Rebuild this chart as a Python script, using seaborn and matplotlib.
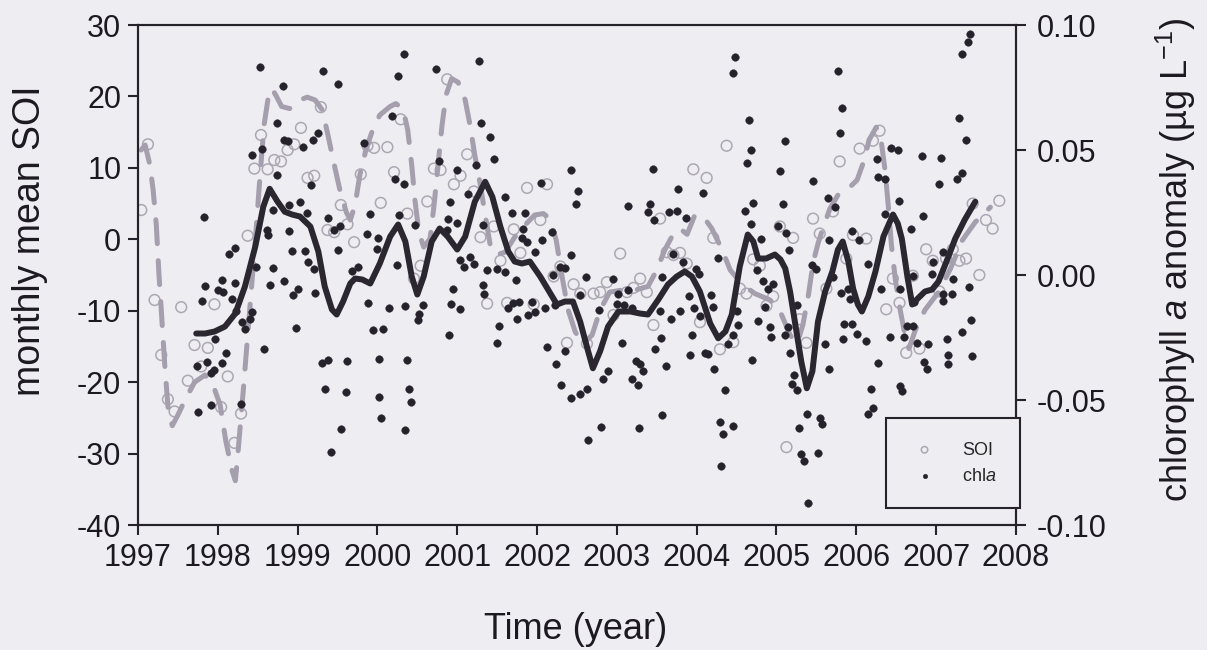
import numpy as np
import pandas as pd
import seaborn as sns
import matplotlib.pyplot as plt
from matplotlib.ticker import FormatStrFormatter

# monthly mean SOI, Jan 1997 - Oct 2007
soi = [4.1, 13.3, -8.5, -16.2, -22.4, -24.1, -9.5, -19.8, -14.8, -17.8, -15.2, -9.1,
       -23.5, -19.2, -28.5, -24.4, 0.5, 9.9, 14.6, 9.8, 11.1, 10.9, 12.5, 13.3,
       15.6, 8.6, 8.9, 18.5, 1.3, 1.0, 4.8, 2.1, -0.4, 9.1, 13.1, 12.8,
       5.1, 12.9, 9.4, 16.8, 3.6, -5.5, -3.7, 5.3, 9.9, 9.7, 22.4, 7.7,
       8.9, 11.9, 6.7, 0.3, -9.0, 1.8, -3.0, -8.9, 1.4, -1.9, 7.2, -9.1,
       2.7, 7.7, -5.2, -3.8, -14.5, -6.3, -7.6, -14.6, -7.6, -7.4, -6.0, -10.6,
       -2.0, -7.4, -6.8, -5.5, -7.4, -12.0, 2.9, -1.8, -2.2, -1.9, -3.4, 9.8,
       -11.6, 8.6, 0.2, -15.4, 13.1, -14.4, -6.9, -7.6, -2.8, -3.7, -9.3, -8.0,
       1.8, -29.1, 0.2, -11.2, -14.5, 2.9, 0.8, -6.9, 3.9, 10.9, -2.7, 0.6,
       12.7, 0.1, 13.8, 15.2, -9.8, -5.5, -8.9, -15.9, -5.1, -15.3, -1.4, -3.0,
       -7.3, -2.7, -1.4, -3.0, -2.7, 5.0, -5.0, 2.7, 1.5, 5.4]
soi_year = [y + (m - 0.5) / 12 for y in range(1997, 2008) for m in range(1, 13)][:len(soi)]

# smoothed SOI (dashed line)
soi_smooth_year = [1997.04, 1997.09, 1997.15, 1997.19, 1997.23, 1997.26, 1997.30, 1997.34, 1997.38, 1997.43,
                   1997.50, 1997.59, 1997.71, 1997.84, 1997.94, 1998.03, 1998.10, 1998.18, 1998.22, 1998.25,
                   1998.32, 1998.37, 1998.42, 1998.48, 1998.53, 1998.58, 1998.63, 1998.68, 1998.74, 1998.80,
                   1998.90, 1999.03, 1999.12, 1999.22, 1999.31, 1999.38, 1999.46, 1999.53, 1999.61, 1999.66,
                   1999.72, 1999.78, 1999.86, 1999.94, 2000.03, 2000.16, 2000.23, 2000.32, 2000.38, 2000.43,
                   2000.47, 2000.52, 2000.58, 2000.66, 2000.71, 2000.76, 2000.81, 2000.86, 2000.93, 2001.01,
                   2001.10, 2001.16, 2001.22, 2001.29, 2001.35, 2001.41, 2001.49, 2001.60, 2001.72, 2001.85,
                   2001.97, 2002.08, 2002.16, 2002.24, 2002.31, 2002.39, 2002.48, 2002.58, 2002.69, 2002.79,
                   2002.91, 2003.07, 2003.23, 2003.39, 2003.50, 2003.60, 2003.70, 2003.79, 2003.88, 2003.97,
                   2004.07, 2004.19, 2004.32, 2004.42, 2004.57, 2004.73, 2004.92, 2005.05, 2005.17, 2005.26,
                   2005.33, 2005.40, 2005.46, 2005.52, 2005.58, 2005.67, 2005.77, 2005.90, 2006.01, 2006.09,
                   2006.16, 2006.25, 2006.31, 2006.36, 2006.40, 2006.44, 2006.49, 2006.55, 2006.61, 2006.66,
                   2006.74, 2006.86, 2007.03, 2007.18, 2007.33, 2007.49, 2007.68]
soi_smooth = [12.5, 13.2, 10.4, 6.9, 2.0, -4.3, -11.3, -18.3, -24.0, -26.1,
              -24.6, -22.5, -20.0, -19.0, -20.4, -23.2, -28.2, -32.4, -33.8, -30.3,
              -21.1, -14.1, -7.1, 1.3, 9.0, 16.0, 19.7, 21.1, 19.9, 18.6,
              18.3, 19.5, 19.9, 19.5, 18.1, 14.6, 10.4, 6.9, 3.8, 2.7,
              4.8, 9.0, 12.7, 15.3, 17.4, 18.6, 19.0, 18.3, 15.3, 10.4,
              5.5, 1.0, -1.1, 0.1, 4.8, 10.4, 16.0, 20.2, 22.5, 22.0,
              19.5, 16.0, 11.8, 7.6, 3.4, -0.6, -2.2, -1.8, 0.3, 2.0,
              3.4, 3.6, 2.9, -0.1, -5.0, -9.9, -13.0, -14.6, -13.4, -9.9,
              -7.4, -7.1, -7.1, -6.6, -4.3, -1.5, 0.6, 1.5, 0.7, 3.2,
              3.4, 1.5, -1.5, -4.3, -6.3, -7.6, -8.5, -10.2, -13.4, -14.6,
              -12.0, -7.8, -3.2, -0.6, 1.5, 4.3, 6.2, 7.1, 8.3, 10.8,
              13.9, 15.7, 13.9, 9.7, 4.8, -0.8, -5.7, -9.9, -13.4, -15.3,
              -12.7, -9.9, -7.4, -4.1, -0.1, 2.4, 4.5]

# smoothed chlorophyll a anomaly (solid line)
chla_smooth_year = [1997.73, 1997.84, 1997.96, 1998.09, 1998.22, 1998.34, 1998.47, 1998.57, 1998.65, 1998.75,
                    1998.84, 1998.93, 1999.03, 1999.16, 1999.26, 1999.34, 1999.43, 1999.49, 1999.57, 1999.66,
                    1999.72, 1999.81, 1999.91, 2000.03, 2000.16, 2000.26, 2000.35, 2000.43, 2000.50, 2000.58,
                    2000.68, 2000.78, 2000.88, 2001.00, 2001.10, 2001.22, 2001.35, 2001.44, 2001.54, 2001.64,
                    2001.72, 2001.81, 2001.91, 2002.04, 2002.13, 2002.25, 2002.35, 2002.45, 2002.54, 2002.64,
                    2002.70, 2002.79, 2002.89, 2003.02, 2003.17, 2003.29, 2003.39, 2003.52, 2003.64, 2003.75,
                    2003.85, 2003.94, 2004.04, 2004.17, 2004.27, 2004.36, 2004.44, 2004.54, 2004.64, 2004.71,
                    2004.77, 2004.87, 2004.98, 2005.05, 2005.11, 2005.17, 2005.23, 2005.31, 2005.38, 2005.45,
                    2005.52, 2005.61, 2005.70, 2005.77, 2005.83, 2005.90, 2005.96, 2006.02, 2006.07, 2006.15,
                    2006.24, 2006.34, 2006.46, 2006.52, 2006.57, 2006.64, 2006.70, 2006.77, 2006.86, 2006.95,
                    2007.03, 2007.13, 2007.24, 2007.36, 2007.49]
chla_smooth = [-0.0234, -0.0234, -0.0226, -0.0206, -0.0154, -0.0046, 0.0114, 0.0273, 0.0345, 0.0293,
               0.0253, 0.0242, 0.0234, 0.0194, 0.0094, -0.0046, -0.0138, -0.0158, -0.0106, -0.0034,
               -0.0014, -0.0018, -0.0034, 0.0046, 0.0154, 0.0202, 0.0134, -0.0006, -0.0078, -0.0006,
               0.0134, 0.0186, 0.0154, 0.0102, 0.0154, 0.0293, 0.0373, 0.0313, 0.0194, 0.0094,
               0.0054, 0.0046, 0.0054, -0.0006, -0.0054, -0.0118, -0.0106, -0.0106, -0.0186, -0.0305,
               -0.0373, -0.0305, -0.0206, -0.0146, -0.0146, -0.0154, -0.0158, -0.0098, -0.0038, -0.0006,
               0.0014, -0.0006, -0.0066, -0.0194, -0.0253, -0.0226, -0.0158, 0.0034, 0.0162, 0.0134,
               0.0066, 0.0066, 0.0082, 0.0062, 0.0026, -0.0066, -0.0186, -0.0345, -0.0453, -0.0385,
               -0.0186, -0.0066, 0.0014, 0.0102, 0.0134, 0.0054, -0.0054, -0.0118, -0.0146, -0.0086,
               0.0014, 0.0154, 0.0242, 0.0206, 0.0146, -0.0006, -0.0118, -0.0094, -0.0066, -0.0058,
               -0.0026, 0.0054, 0.0146, 0.0222, 0.0293]

# chlorophyll a anomaly samples (dots)
chla_year = [1998.53, 1998.82, 1999.32, 1999.51, 1998.74, 1998.83, 1998.88, 1999.07, 1999.19, 1999.26,
             1998.43, 1998.55, 1998.74, 1999.17, 1999.83, 1997.83, 1998.22, 1998.14, 1998.69, 1998.89,
             1999.03, 1999.12, 1999.38, 1999.46, 1999.53, 1999.51, 1998.62, 1998.63, 1998.89, 1998.93,
             1999.09, 1999.13, 1999.21, 1999.22, 1999.68, 1999.76, 1998.48, 1998.69, 1998.65, 1998.83,
             1998.94, 1999.00, 1997.84, 1997.80, 1998.05, 1998.00, 1998.07, 1998.22, 1998.18, 1998.23,
             1998.30, 1998.34, 1998.43, 1998.40, 1998.98, 1997.96, 1998.10, 1998.05, 1997.86, 1997.74,
             1997.95, 1997.91, 1998.58, 1999.31, 1999.38, 1999.62, 1999.34, 1999.61, 1997.75, 1997.91,
             1998.29, 1999.54, 1999.42,
             2000.33, 2000.26, 2000.73, 2001.27, 2000.18, 2001.30, 2001.41, 2001.46, 2000.77, 2001.00,
             2000.22, 2000.33, 2001.14, 2001.24, 2002.43, 2002.51, 2002.49, 2002.05, 1999.91, 2000.27,
             2000.91, 2000.88, 2001.00, 2001.60, 2001.69, 2001.85, 1999.87, 2000.01, 2000.47, 2000.87,
             2001.32, 2001.82, 2002.06, 2002.19, 2002.43, 2000.00, 2000.25, 2001.04, 2001.09, 2001.16,
             2001.21, 2001.81, 2001.87, 2001.97, 2001.37, 2001.50, 2001.60, 2001.74, 2002.20, 2002.29,
             2002.35, 2002.61, 1999.88, 2000.15, 2000.35, 2000.57, 2000.95, 2000.92, 2001.04, 2001.32,
             2001.34, 2001.64, 2001.75, 2001.70, 2001.77, 2001.89, 2001.97, 2001.94, 2002.10, 2002.23,
             2002.54, 1999.94, 2000.07, 2000.51, 2000.52, 2000.90, 2001.52, 2001.50, 2002.13, 2002.35,
             2000.02, 2000.37, 2002.24, 2000.02, 2000.40, 2000.42, 2000.05, 2000.35, 2002.30, 2002.43,
             2002.54, 2002.63, 2002.64,
             2004.48, 2004.46, 2004.66, 2005.11, 2004.68, 2004.63, 2003.45, 2003.77, 2004.08, 2005.05,
             2005.46, 2003.14, 2003.42, 2003.39, 2003.47, 2003.65, 2003.75, 2003.87, 2004.71, 2004.61,
             2005.08, 2004.68, 2005.02, 2005.12, 2005.16, 2004.81, 2003.70, 2003.83, 2004.27, 2003.99,
             2004.03, 2004.18, 2004.21, 2002.95, 2003.14, 2003.02, 2003.00, 2003.09, 2003.19, 2002.78,
             2003.57, 2003.54, 2003.68, 2003.79, 2003.90, 2003.97, 2004.04, 2004.76, 2004.83, 2004.89,
             2004.96, 2004.86, 2004.77, 2004.92, 2004.93, 2004.51, 2004.52, 2004.46, 2004.39, 2005.26,
             2005.15, 2005.11, 2003.07, 2003.48, 2003.55, 2003.94, 2002.89, 2002.83, 2003.24, 2003.29,
             2003.33, 2003.62, 2003.92, 2004.11, 2004.14, 2004.22, 2003.19, 2003.27, 2004.36, 2004.69,
             2005.17, 2005.22, 2005.20, 2005.26, 2005.38, 2005.28, 2003.57, 2002.80, 2003.28, 2004.29,
             2004.46, 2004.33, 2004.31, 2005.31, 2005.35, 2005.40,
             2007.43, 2007.40, 2007.33, 2005.77, 2005.82, 2005.80, 2007.29, 2007.38, 2006.44, 2006.52,
             2006.26, 2006.82, 2007.06, 2006.27, 2006.36, 2007.33, 2007.26, 2007.03, 2005.65, 2005.73,
             2006.54, 2006.36, 2006.84, 2006.69, 2005.66, 2005.95, 2006.04, 2006.15, 2005.45, 2005.50,
             2005.71, 2007.08, 2006.96, 2006.95, 2006.71, 2007.21, 2007.41, 2005.81, 2005.90, 2005.92,
             2006.31, 2006.55, 2007.08, 2007.20, 2007.08, 2006.72, 2005.85, 2005.95, 2006.01, 2005.83,
             2006.12, 2006.42, 2006.60, 2006.64, 2006.71, 2006.76, 2006.90, 2007.14, 2007.33, 2007.44,
             2005.61, 2006.27, 2005.66, 2006.85, 2006.89, 2007.15, 2007.15, 2007.45, 2006.19, 2006.55,
             2006.57, 2006.21, 2006.15, 2005.55, 2005.57, 2005.52]
chla = [0.0832, 0.0756, 0.0816, 0.0764, 0.0609, 0.0541, 0.0537, 0.0513, 0.0541, 0.0569,
        0.0481, 0.0505, 0.0401, 0.0361, 0.0529, 0.0234, 0.0110, 0.0086, 0.0261, 0.0281,
        0.0293, 0.0250, 0.0230, 0.0182, 0.0198, 0.0102, 0.0182, 0.0162, 0.0178, 0.0098,
        0.0098, 0.0054, 0.0026, -0.0070, 0.0018, 0.0034, 0.0034, 0.0030, -0.0038, -0.0022,
        -0.0078, -0.0054, -0.0042, -0.0102, -0.0018, -0.0058, -0.0066, -0.0030, -0.0094, -0.0142,
        -0.0186, -0.0214, -0.0146, -0.0174, -0.0210, -0.0257, -0.0313, -0.0353, -0.0349, -0.0365,
        -0.0381, -0.0393, -0.0297, -0.0353, -0.0341, -0.0345, -0.0457, -0.0469, -0.0549, -0.0521,
        -0.0517, -0.0617, -0.0709,
        0.0884, 0.0796, 0.0824, 0.0856, 0.0637, 0.0609, 0.0553, 0.0465, 0.0457, 0.0421,
        0.0385, 0.0365, 0.0325, 0.0441, 0.0421, 0.0337, 0.0285, 0.0369, 0.0246, 0.0242,
        0.0293, 0.0226, 0.0210, 0.0313, 0.0250, 0.0250, 0.0166, 0.0150, 0.0202, 0.0182,
        0.0202, 0.0186, 0.0142, 0.0174, 0.0082, 0.0106, 0.0042, 0.0062, 0.0034, 0.0074,
        0.0046, 0.0150, 0.0134, 0.0094, 0.0022, 0.0026, 0.0014, -0.0018, 0.0002, 0.0034,
        0.0030, -0.0006, -0.0110, -0.0130, -0.0122, -0.0118, -0.0054, -0.0114, -0.0134, -0.0038,
        -0.0074, -0.0130, -0.0174, -0.0110, -0.0106, -0.0158, -0.0146, -0.0106, -0.0130, -0.0118,
        -0.0078, -0.0218, -0.0214, -0.0178, -0.0154, -0.0238, -0.0202, -0.0273, -0.0289, -0.0305,
        -0.0337, -0.0341, -0.0357, -0.0489, -0.0457, -0.0509, -0.0573, -0.0621, -0.0441, -0.0493,
        -0.0477, -0.0457, -0.0661,
        0.0872, 0.0808, 0.0621, 0.0537, 0.0501, 0.0449, 0.0425, 0.0345, 0.0329, 0.0417,
        0.0377, 0.0277, 0.0285, 0.0253, 0.0222, 0.0253, 0.0257, 0.0230, 0.0289, 0.0257,
        0.0285, 0.0206, 0.0198, 0.0170, 0.0102, 0.0146, 0.0086, 0.0054, 0.0070, 0.0026,
        0.0006, -0.0078, -0.0126, -0.0014, -0.0058, -0.0074, -0.0114, -0.0118, -0.0130, -0.0138,
        -0.0006, -0.0142, -0.0174, -0.0142, -0.0082, -0.0130, -0.0162, 0.0022, -0.0022, -0.0054,
        -0.0034, -0.0126, -0.0182, -0.0206, -0.0246, -0.0142, -0.0198, -0.0238, -0.0277, -0.0118,
        -0.0206, -0.0238, -0.0273, -0.0297, -0.0253, -0.0238, -0.0385, -0.0417, -0.0345, -0.0357,
        -0.0385, -0.0365, -0.0321, -0.0313, -0.0317, -0.0377, -0.0417, -0.0441, -0.0461, -0.0341,
        -0.0313, -0.0401, -0.0437, -0.0461, -0.0557, -0.0613, -0.0561, -0.0609, -0.0613, -0.0589,
        -0.0605, -0.0637, -0.0764, -0.0717, -0.0745, -0.0912,
        0.0964, 0.0932, 0.0884, 0.0816, 0.0669, 0.0569, 0.0629, 0.0541, 0.0509, 0.0501,
        0.0465, 0.0477, 0.0469, 0.0393, 0.0385, 0.0409, 0.0385, 0.0365, 0.0309, 0.0273,
        0.0297, 0.0246, 0.0238, 0.0186, 0.0142, 0.0178, 0.0142, 0.0046, 0.0042, 0.0026,
        -0.0006, 0.0094, 0.0054, 0.0006, -0.0002, -0.0014, -0.0046, -0.0070, -0.0054, -0.0094,
        -0.0054, -0.0054, -0.0074, -0.0074, -0.0102, -0.0106, -0.0194, -0.0194, -0.0234, -0.0257,
        -0.0265, -0.0246, -0.0246, -0.0202, -0.0202, -0.0273, -0.0277, -0.0257, -0.0226, -0.0178,
        -0.0277, -0.0353, -0.0377, -0.0349, -0.0377, -0.0321, -0.0357, -0.0325, -0.0457, -0.0445,
        -0.0465, -0.0533, -0.0557, -0.0573, -0.0597, -0.0713]

n = min(len(chla_year), len(chla))
chla_df = pd.DataFrame({"year": chla_year[:n], "chla": chla[:n]})
soi_df = pd.DataFrame({"year": soi_year, "soi": soi})

bg = "#eeedf2"
ink = "#26222c"
txt = "#1c1a20"

sns.set_style("ticks")
plt.rcParams["font.family"] = ["Liberation Sans", "DejaVu Sans"]
plt.rcParams["mathtext.fontset"] = "custom"
plt.rcParams["mathtext.rm"] = "Liberation Sans"
plt.rcParams["mathtext.it"] = "Liberation Sans:italic"
plt.rcParams["axes.unicode_minus"] = False

fig = plt.figure(figsize=(12.07, 6.5), dpi=100, facecolor=bg)
ax = fig.add_axes([0.1143, 0.1923, 0.7274, 0.7692], facecolor=bg)

sns.scatterplot(data=soi_df, x="year", y="soi", ax=ax, marker="o", s=60,
                facecolor="none", edgecolor="#aca8b3", linewidth=1.1,
                label="SOI", legend=False, zorder=2)
sns.lineplot(x=soi_smooth_year, y=soi_smooth, ax=ax, color="#a49ead", linewidth=3.6,
             linestyle=(0, (4.8, 3.4)), dash_capstyle="round", sort=False,
             estimator=None, zorder=3)

ax2 = ax.twinx()
sns.scatterplot(data=chla_df, x="year", y="chla", ax=ax2, marker="o", s=30,
                color=ink, edgecolor=ink, linewidth=0.3, label="chl$a$",
                legend=False, zorder=2)
sns.lineplot(x=chla_smooth_year, y=chla_smooth, ax=ax2, color="#2b2731", linewidth=4.3,
             sort=False, estimator=None, solid_capstyle="round",
             solid_joinstyle="round", zorder=3)

for a in (ax, ax2):
    if a.get_legend() is not None:
        a.get_legend().remove()

ax.set_xlim(1997, 2008)
ax.set_ylim(-40, 30)
ax.set_xticks(range(1997, 2009))
ax.set_yticks(range(-40, 31, 10))
ax2.set_ylim(-0.10, 0.10)
ax2.set_yticks([-0.10, -0.05, 0.0, 0.05, 0.10])
ax2.yaxis.set_major_formatter(FormatStrFormatter("%.2f"))

for a in (ax, ax2):
    for sp in a.spines.values():
        sp.set_visible(True)
        sp.set_color(ink)
        sp.set_linewidth(1.5)

ax.tick_params(axis="x", direction="out", length=7, width=1.5, color=ink,
               labelsize=22, labelcolor=txt, pad=6, top=False)
ax.tick_params(axis="y", direction="out", length=7, width=1.5, color=ink,
               labelsize=22, labelcolor=txt, pad=5, right=False)
ax2.tick_params(axis="y", direction="out", length=7, width=1.5, color=ink,
                labelsize=22, labelcolor=txt, pad=8)

ax.set_xlabel("Time (year)", fontsize=26, color=txt)
ax.set_ylabel("monthly mean SOI", fontsize=27, color=txt)
ax2.set_ylabel("chlorophyll $a$ anomaly (µg L$^{-1}$)", fontsize=26, color=txt)
ax.xaxis.set_label_coords(0.498, -0.174)
ax.yaxis.set_label_coords(-0.103, 0.568)
ax2.yaxis.set_label_coords(1.157, 0.53)

h1, l1 = ax.get_legend_handles_labels()
h2, l2 = ax2.get_legend_handles_labels()
leg = ax2.legend(h1 + h2, l1 + l2, loc="lower right", bbox_to_anchor=(1.005, 0.034),
                 fontsize=13, frameon=True, fancybox=False, framealpha=1,
                 facecolor=bg, edgecolor=ink, borderpad=1.3, labelspacing=0.5,
                 handlelength=1.7, handletextpad=1.25, markerscale=0.6, borderaxespad=0)
leg.get_frame().set_linewidth(1.5)

fig.savefig("out.png", dpi=100, facecolor=bg)
